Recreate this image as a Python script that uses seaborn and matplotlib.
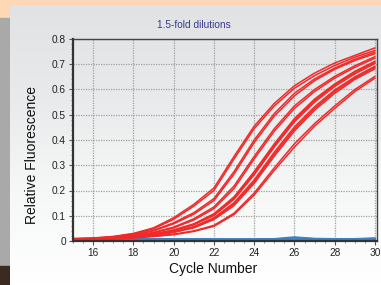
import numpy as np
import pandas as pd
import matplotlib.pyplot as plt
import seaborn as sns
from matplotlib.patches import Rectangle
from matplotlib.colors import LinearSegmentedColormap

sns.set_style('white')
plt.rcParams['font.family'] = ['Liberation Sans', 'DejaVu Sans']

cycles = list(range(15, 31))

# red amplification curves (1.5-fold dilution series, replicates)
red_curves = {
    'A1': [0.010, 0.012, 0.018, 0.030, 0.052, 0.092, 0.145, 0.210, 0.335, 0.455, 0.545, 0.615, 0.665, 0.705, 0.735, 0.765],
    'A2': [0.009, 0.011, 0.017, 0.028, 0.048, 0.086, 0.138, 0.200, 0.325, 0.445, 0.535, 0.605, 0.655, 0.695, 0.728, 0.755],
    'B1': [0.008, 0.010, 0.015, 0.025, 0.042, 0.072, 0.112, 0.168, 0.275, 0.400, 0.505, 0.585, 0.642, 0.685, 0.720, 0.748],
    'B2': [0.008, 0.010, 0.014, 0.024, 0.040, 0.068, 0.106, 0.160, 0.265, 0.390, 0.495, 0.575, 0.635, 0.680, 0.715, 0.742],
    'C1': [0.007, 0.009, 0.013, 0.021, 0.034, 0.055, 0.088, 0.135, 0.218, 0.335, 0.445, 0.535, 0.600, 0.652, 0.694, 0.730],
    'C2': [0.007, 0.009, 0.012, 0.020, 0.032, 0.052, 0.083, 0.128, 0.208, 0.325, 0.435, 0.525, 0.592, 0.645, 0.688, 0.724],
    'D1': [0.006, 0.008, 0.011, 0.018, 0.028, 0.044, 0.068, 0.108, 0.175, 0.275, 0.385, 0.485, 0.562, 0.622, 0.672, 0.712],
    'D2': [0.006, 0.008, 0.011, 0.017, 0.027, 0.042, 0.066, 0.104, 0.170, 0.268, 0.378, 0.478, 0.556, 0.618, 0.668, 0.708],
    'D3': [0.006, 0.008, 0.011, 0.017, 0.026, 0.041, 0.064, 0.101, 0.165, 0.262, 0.372, 0.472, 0.550, 0.612, 0.662, 0.703],
    'E1': [0.006, 0.007, 0.010, 0.016, 0.024, 0.037, 0.057, 0.092, 0.152, 0.242, 0.352, 0.452, 0.532, 0.598, 0.650, 0.692],
    'E2': [0.006, 0.007, 0.010, 0.015, 0.023, 0.035, 0.054, 0.088, 0.146, 0.235, 0.344, 0.444, 0.525, 0.592, 0.645, 0.688],
    'E3': [0.005, 0.007, 0.009, 0.015, 0.022, 0.034, 0.052, 0.085, 0.140, 0.228, 0.336, 0.436, 0.518, 0.585, 0.640, 0.682],
    'F1': [0.005, 0.006, 0.009, 0.013, 0.019, 0.027, 0.040, 0.062, 0.110, 0.190, 0.290, 0.385, 0.465, 0.535, 0.600, 0.652],
    'F2': [0.005, 0.006, 0.008, 0.012, 0.018, 0.025, 0.038, 0.058, 0.105, 0.182, 0.280, 0.372, 0.455, 0.525, 0.592, 0.645],
}

# blue no-template / negative wells
blue_curves = {
    'N1': [0.006, 0.006, 0.006, 0.007, 0.007, 0.007, 0.006, 0.006, 0.006, 0.006, 0.007, 0.014, 0.008, 0.007, 0.007, 0.010],
    'N2': [0.005, 0.005, 0.006, 0.006, 0.006, 0.006, 0.006, 0.006, 0.005, 0.006, 0.006, 0.010, 0.007, 0.006, 0.006, 0.008],
    'N3': [0.004, 0.005, 0.005, 0.005, 0.005, 0.005, 0.005, 0.005, 0.005, 0.005, 0.005, 0.008, 0.005, 0.005, 0.005, 0.007],
}

red_df = pd.DataFrame([(w, c, v) for w, vals in red_curves.items() for c, v in zip(cycles, vals)],
                      columns=['well', 'cycle', 'rfu'])
blue_df = pd.DataFrame([(w, c, v) for w, vals in blue_curves.items() for c, v in zip(cycles, vals)],
                       columns=['well', 'cycle', 'rfu'])

fig = plt.figure(figsize=(3.81, 2.85), dpi=100)

# window / panel background
bg = fig.add_axes([0, 0, 1, 1])
bg.set_xlim(0, 381)
bg.set_ylim(285, 0)
bg.axis('off')
bg.add_patch(Rectangle((0, 0), 381, 285, color='#fed7b4'))
bg.add_patch(Rectangle((0, 18), 10, 250, color='#a9a9a9'))
bg.add_patch(Rectangle((0, 266), 10, 19, color='#3b2a20'))
grad = np.linspace(0, 1, 256).reshape(-1, 1)
panel_cmap = LinearSegmentedColormap.from_list('panel', ['#e1e2e3', '#e9eaeb', '#f6f7f7', '#ffffff'])
bg.imshow(grad, extent=(10, 381, 285, 5), cmap=panel_cmap, aspect='auto', zorder=1)

ax = fig.add_axes([73 / 381, 1 - 241 / 285, 304 / 381, 202 / 285])
ax.set_facecolor('none')

sns.lineplot(data=blue_df, x='cycle', y='rfu', units='well', estimator=None,
             color='#3d80c4', linewidth=1.8, ax=ax)
sns.lineplot(data=red_df, x='cycle', y='rfu', units='well', estimator=None,
             color='#ee2a2a', linewidth=1.1, ax=ax)

ax.set_xlim(15, 30.1)
ax.set_ylim(0, 0.8)
ax.set_xticks(range(16, 31, 2))
ax.set_yticks(np.arange(0, 0.81, 0.1))
ax.set_yticklabels(['0', '0.1', '0.2', '0.3', '0.4', '0.5', '0.6', '0.7', '0.8'])
ax.set_xticks(np.arange(15, 30.1, 0.5), minor=True)
ax.set_yticks(np.arange(0, 0.81, 0.02), minor=True)
ax.grid(True, which='major', color='#a0a0a0', linestyle=(0, (1, 1)), linewidth=0.9)
ax.tick_params(which='major', direction='out', length=3, width=0.8, color='#555555',
               labelsize=7.3, labelcolor='#222222', pad=2)
ax.tick_params(which='minor', direction='out', length=1.5, width=0.6, color='#777777')
ax.tick_params(axis='x', which='both', bottom=True)
ax.tick_params(axis='y', which='both', left=True)
ax.set_xlabel('')
ax.set_ylabel('')

for side in ['left', 'bottom']:
    ax.spines[side].set_linewidth(1.6)
    ax.spines[side].set_color('#333333')
for side in ['top', 'right']:
    ax.spines[side].set_linewidth(1.0)
    ax.spines[side].set_color('#444444')

fig.text(194 / 381, 1 - 25 / 285, '1.5-fold dilutions', ha='center', va='center',
         fontsize=7.3, color='#3b3b8c')
fig.text(32 / 381, 1 - 155 / 285, 'Relative Fluorescence', ha='center', va='center',
         rotation=90, fontsize=10, color='#111111')
fig.text(213 / 381, 1 - 269 / 285, 'Cycle Number', ha='center', va='center',
         fontsize=10, color='#111111')

fig.savefig('out.png', dpi=100)
